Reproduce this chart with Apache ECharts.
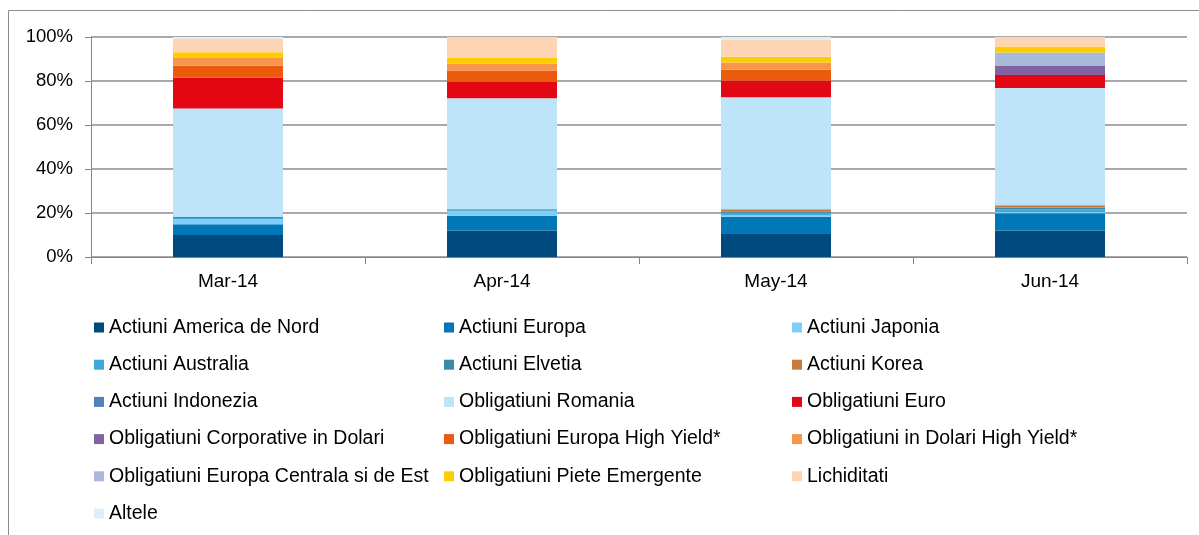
<!DOCTYPE html>
<html>
<head>
<meta charset="utf-8">
<script src="https://cdn.jsdelivr.net/npm/echarts@6/dist/echarts.min.js"></script>
<style>
  html, body { margin: 0; padding: 0; background: #fff; }
  #main { width: 1199px; height: 535px; }
</style>
</head>
<body>
<div id="main"></div>
<script>
var months = ['Mar-14', 'Apr-14', 'May-14', 'Jun-14'];
var yTicks = [0, 20, 40, 60, 80, 100];

// procente din portofoliu
var actiuniAmericaNord   = [10.0, 12.0, 10.5, 12.0];
var actiuniEuropa        = [4.9, 6.7, 7.8, 7.9];
var actiuniJaponia       = [2.3, 2.1, 0.8, 0.5];
var actiuniAustralia     = [0.5, 0.5, 1.0, 1.2];
var actiuniElvetia       = [0.6, 0.4, 0.7, 0.9];
var actiuniKorea         = [0, 0, 0.9, 1.0];
var actiuniIndonezia     = [0, 0, 0, 0];
var obligRomania         = [49.2, 50.5, 50.9, 53.3];
var obligEuro            = [14.1, 7.6, 7.6, 5.9];
var obligCorpDolari      = [0, 0, 0, 4.4];
var obligEuropaHY        = [5.5, 5.0, 4.9, 0];
var obligDolariHY        = [3.3, 3.2, 3.3, 0];
var obligEuropaCentrala  = [0, 0, 0, 5.9];
var obligPieteEmergente  = [2.7, 2.6, 2.6, 2.7];
var lichiditati          = [6.1, 9.4, 7.9, 4.3];
var altele               = [0.8, 0, 1.1, 0];

var seriesDefs = [
  ['Actiuni America de Nord', actiuniAmericaNord, '#004a7f'],
  ['Actiuni Europa', actiuniEuropa, '#0077b6'],
  ['Actiuni Japonia', actiuniJaponia, '#82cdf6'],
  ['Actiuni Australia', actiuniAustralia, '#3fa8da'],
  ['Actiuni Elvetia', actiuniElvetia, '#3a8ca6'],
  ['Actiuni Korea', actiuniKorea, '#c97b3c'],
  ['Actiuni Indonezia', actiuniIndonezia, '#4f81bd'],
  ['Obligatiuni Romania', obligRomania, '#bde4f9'],
  ['Obligatiuni Euro', obligEuro, '#e30613'],
  ['Obligatiuni Corporative in Dolari', obligCorpDolari, '#8064a2'],
  ['Obligatiuni Europa High Yield*', obligEuropaHY, '#ea5b0c'],
  ['Obligatiuni in Dolari High Yield*', obligDolariHY, '#f7964a'],
  ['Obligatiuni Europa Centrala si de Est', obligEuropaCentrala, '#a9b9d9'],
  ['Obligatiuni Piete Emergente', obligPieteEmergente, '#ffcc00'],
  ['Lichiditati', lichiditati, '#fdd5b5'],
  ['Altele', altele, '#ddeffb']
];

var series = seriesDefs.map(function (d) {
  return {
    name: d[0],
    type: 'bar',
    stack: 'total',
    barWidth: 110,
    data: d[1],
    itemStyle: { color: d[2] }
  };
});

// legenda pe 3 coloane, completata pe randuri
var cols = [[], [], []];
seriesDefs.forEach(function (d, i) { cols[i % 3].push(d[0]); });
var colX = [94, 444, 792];
var legends = cols.map(function (names, c) {
  return {
    orient: 'vertical',
    left: colX[c],
    top: 316.5,
    padding: 0,
    itemWidth: 10,
    itemHeight: 10,
    itemGap: 15.2,
    icon: 'rect',
    selectedMode: false,
    data: names,
    textStyle: { fontFamily: 'Liberation Sans, Arial', fontSize: 19.5, color: '#000', lineHeight: 22 }
  };
});

var myChart = echarts.init(document.getElementById('main'));
var option = {
  backgroundColor: '#fff',
  animation: false,
  graphic: [{
    type: 'rect',
    shape: { x: 8.5, y: 10.5, width: 1300, height: 600 },
    style: { fill: 'none', stroke: '#8c8c8c', lineWidth: 1 },
    silent: true
  }],
  legend: legends,
  grid: { left: 91, right: 12, top: 37, height: 220 },
  xAxis: {
    type: 'category',
    data: months,
    axisLine: { lineStyle: { color: '#868686', width: 1 } },
    axisTick: { show: true, length: 7, lineStyle: { color: '#868686' } },
    axisLabel: { fontFamily: 'Liberation Sans, Arial', fontSize: 19, color: '#000', margin: 15 }
  },
  yAxis: {
    type: 'value',
    min: yTicks[0],
    max: yTicks[yTicks.length - 1],
    interval: 20,
    axisLine: { show: true, lineStyle: { color: '#868686', width: 1 } },
    axisTick: { show: true, length: 6, lineStyle: { color: '#868686' } },
    splitLine: { lineStyle: { color: '#8c8c8c', width: 1.5 } },
    axisLabel: { formatter: '{value}%', fontFamily: 'Liberation Sans, Arial', fontSize: 18.5, color: '#000', margin: 18 }
  },
  series: series
};
myChart.setOption(option);
</script>
</body>
</html>
